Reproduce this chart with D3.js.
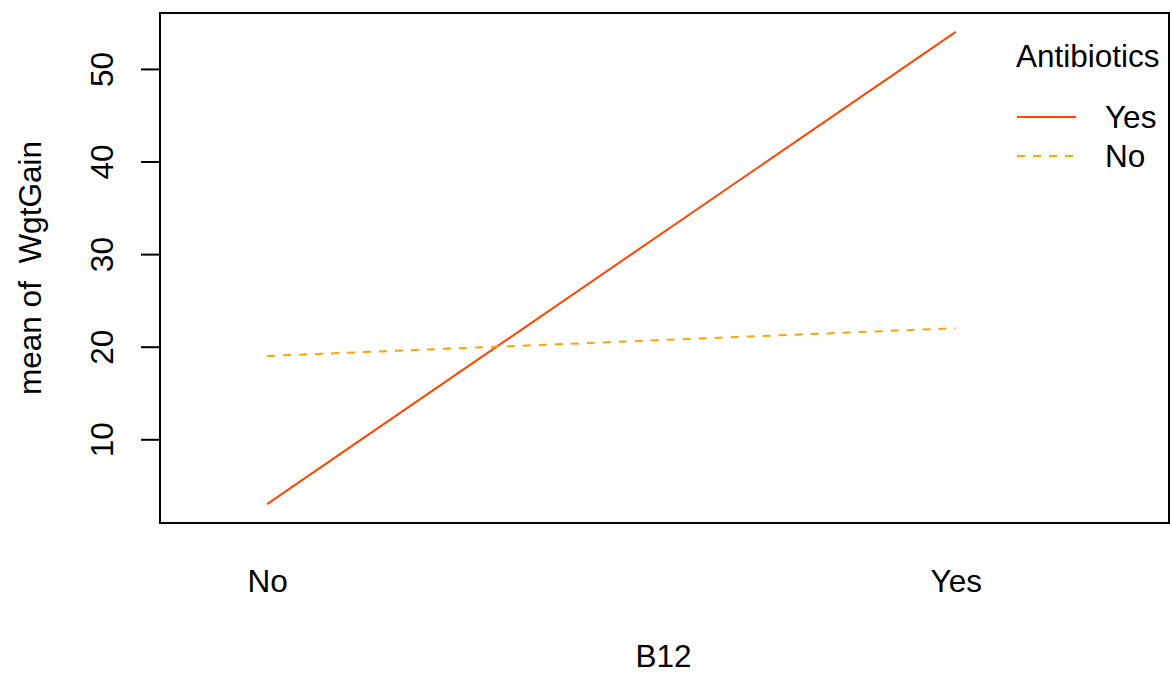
<!DOCTYPE html>
<html>
<head>
<meta charset="utf-8">
<script src="https://cdn.jsdelivr.net/npm/d3@7"></script>
<style>
  html, body { margin: 0; padding: 0; background: #fff; }
  svg text { font-family: "Liberation Sans", Arial, Helvetica, sans-serif; fill: #000; }
</style>
</head>
<body>
<svg id="chart" width="1172" height="673"></svg>
<script>
// Interaction plot: mean weight gain by B12, one trace per Antibiotics level
const b12Levels = ["No", "Yes"];
const antibioticLevels = ["Yes", "No"];
const meanYes = [3, 54];
const meanNo = [19, 22];
const yTicks = [10, 20, 30, 40, 50];
const seriesColors = ["#FF4500", "#FFA500"];
const seriesDash = [null, "8,8"];

const series = [
  { name: antibioticLevels[0], values: meanYes },
  { name: antibioticLevels[1], values: meanNo }
];

const box = { left: 160, right: 1169, top: 13, bottom: 523 };
const fontSize = 31.5;

const svg = d3.select("#chart");

// x positions: level index 1..n, with room on the right for the legend
const x = d3.scaleLinear().domain([0.8445, 2.3096]).range([box.left, box.right]);
// y range padded by 4% of the data range on each side
const allVals = meanYes.concat(meanNo);
const lo = d3.min(allVals), hi = d3.max(allVals), pad = 0.04 * (hi - lo);
const y = d3.scaleLinear().domain([lo - pad, hi + pad]).range([box.bottom, box.top]);

// series traces
const line = d3.line().x((d, i) => x(i + 1)).y(d => y(d));
series.forEach((s, k) => {
  svg.append("path")
    .attr("d", line(s.values))
    .attr("fill", "none")
    .attr("stroke", seriesColors[k])
    .attr("stroke-width", 2)
    .attr("stroke-dasharray", seriesDash[k]);
});

// plot frame
svg.append("rect")
  .attr("x", box.left).attr("y", box.top)
  .attr("width", box.right - box.left).attr("height", box.bottom - box.top)
  .attr("fill", "none").attr("stroke", "#000").attr("stroke-width", 2);

// left axis with rotated labels
const yAxis = svg.append("g")
  .attr("transform", `translate(${box.left},0)`)
  .call(d3.axisLeft(y).tickValues(yTicks).tickSize(19).tickPadding(0).tickFormat(d3.format("d")));
yAxis.select(".domain").remove();
yAxis.selectAll(".tick line").attr("stroke", "#000").attr("stroke-width", 2);
yAxis.selectAll(".tick text")
  .attr("x", null).attr("dy", null)
  .attr("transform", "translate(-47,0) rotate(-90)")
  .attr("text-anchor", "middle")
  .attr("font-size", fontSize);

// bottom category labels (no tick marks)
const xAxis = svg.append("g")
  .attr("transform", `translate(0,${box.bottom})`)
  .call(d3.axisBottom(x).tickValues(d3.range(1, b12Levels.length + 1)).tickSize(0).tickPadding(0)
    .tickFormat((d) => b12Levels[d - 1]));
xAxis.select(".domain").remove();
xAxis.selectAll(".tick text")
  .attr("y", 69).attr("dy", null)
  .attr("font-size", fontSize);

// axis titles
svg.append("text")
  .attr("x", (box.left + box.right) / 2 - 1).attr("y", 667)
  .attr("text-anchor", "middle").attr("font-size", fontSize)
  .text("B12");
svg.append("text")
  .attr("transform", `translate(41,${(box.top + box.bottom) / 2}) rotate(-90)`)
  .attr("text-anchor", "middle").attr("font-size", fontSize)
  .attr("xml:space", "preserve")
  .style("white-space", "pre")
  .text("mean of  WgtGain");

// legend
const legend = svg.append("g");
legend.append("text")
  .attr("x", 1016).attr("y", 67)
  .attr("font-size", fontSize)
  .text("Antibiotics");
series.forEach((s, k) => {
  const ly = 117 + k * 39;
  legend.append("line")
    .attr("x1", 1017).attr("x2", 1076).attr("y1", ly).attr("y2", ly)
    .attr("stroke", seriesColors[k]).attr("stroke-width", 2)
    .attr("stroke-dasharray", seriesDash[k]);
  legend.append("text")
    .attr("x", 1105).attr("y", ly + 11)
    .attr("font-size", fontSize)
    .text(s.name);
});
</script>
</body>
</html>
